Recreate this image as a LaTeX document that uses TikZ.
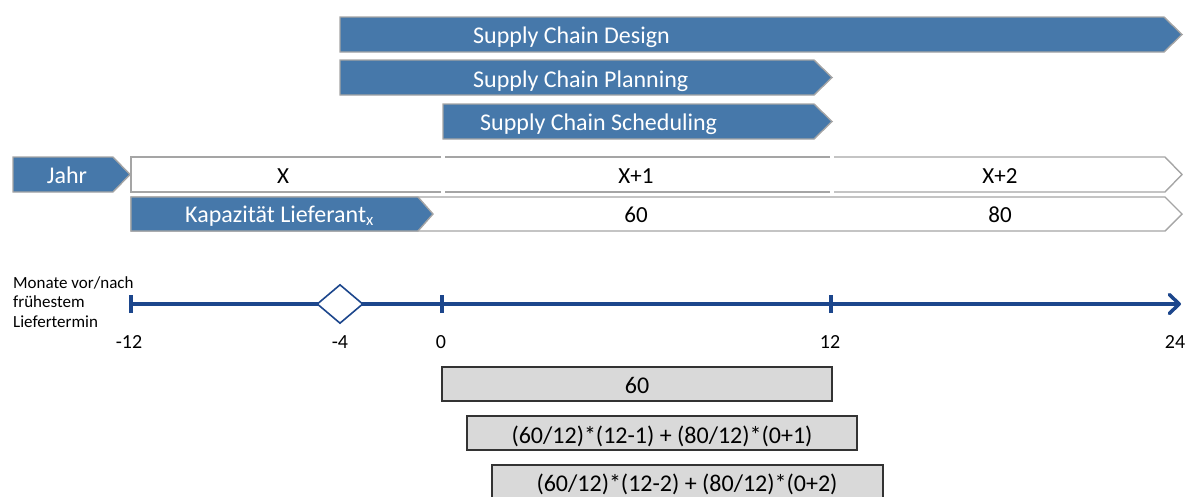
\documentclass[tikz,border=0pt]{standalone}
\usepackage{fontspec}
\setmainfont{Carlito}
\usetikzlibrary{arrows.meta,shapes.geometric}

\definecolor{barblue}{RGB}{70,120,170}
\definecolor{edgegrey}{RGB}{165,165,165}
\definecolor{axisblue}{RGB}{28,70,140}
\definecolor{boxgrey}{RGB}{217,217,217}

\tikzset{
  bluebar/.style={fill=barblue, draw=edgegrey, line width=1.4pt, line join=miter},
  rowline/.style={draw=edgegrey, line width=1.4pt},
  bartext/.style={text=white, font=\fontsize{24}{28}\selectfont, inner sep=0pt},
  celltext/.style={text=black, font=\fontsize{23}{27}\selectfont, inner sep=0pt, anchor=base},
  axisline/.style={draw=axisblue, line width=3.5pt},
  ticklabel/.style={text=black, font=\fontsize{20}{24}\selectfont, inner sep=0pt, anchor=base},
  calcbox/.style={fill=boxgrey, draw=black!80, line width=1.4pt},
  calctext/.style={text=black, font=\fontsize{24}{28}\selectfont, inner sep=0pt, anchor=base},
}

\begin{document}
\begin{tikzpicture}[x=1pt, y=-1pt]
\useasboundingbox (0,0) rectangle (1192,496);

% planning horizons
\path[bluebar] (340,17) -- (1164,17) -- (1182,34.5) -- (1164,52) -- (340,52) -- cycle;
\node[bartext, anchor=base west] (design) at (473,43) {Supply Chain Design};
\path[bluebar] (340,60) -- (814,60) -- (832,77.5) -- (814,95) -- (340,95) -- cycle;
\node[bartext, anchor=base west] (planning) at (473,87) {Supply Chain Planning};
\path[bluebar] (443,104) -- (814,104) -- (832,121.5) -- (814,139) -- (443,139) -- cycle;
\node[bartext, anchor=base west] (scheduling) at (480,130) {Supply Chain Scheduling};

% year row
\path[bluebar] (13,157) -- (113,157) -- (130,174.5) -- (113,192) -- (13,192) -- cycle;
\node[bartext, anchor=base] (jahr) at (67,183) {Jahr};
\draw[rowline] (441,157) -- (131,157) -- (131,192) -- (441,192);
\draw[rowline] (445,157) -- (830,157) (445,192) -- (830,192);
\draw[rowline] (834,157) -- (1165,157) -- (1182,174.5) -- (1165,192) -- (834,192);
\node[celltext] (yx) at (283,183) {X};
\node[celltext] (yx1) at (636,183) {X+1};
\node[celltext] (yx2) at (1000,183) {X+2};

% supplier capacity row
\draw[rowline] (131,197) -- (1165,197) -- (1182,214) -- (1165,231) -- (131,231) -- cycle;
\path[bluebar] (131,197) -- (418,197) -- (433,214) -- (418,231) -- (131,231) -- cycle;
\node[bartext, anchor=base west] (kap) at (185,222) {Kapazität Lieferant\textsubscript{x}};
\node[celltext] (c60) at (636,222) {60};
\node[celltext] (c80) at (1000,222) {80};

% timeline
\node[text=black, font=\fontsize{17}{19.5}\selectfont, inner sep=0pt, align=left, anchor=base west]
  (axlabel) at (13,327) {Monate vor/nach\\frühestem\\Liefertermin};
\coordinate (t-12) at (131,304);
\coordinate (t-4) at (340,304);
\coordinate (t0) at (442,304);
\coordinate (t12) at (831,304);
\coordinate (t24) at (1181,304);
\draw[axisline, -{Straight Barb[length=10pt,width=19pt,line cap=round,line join=round]}] (t-12) -- (t24);
\foreach \t in {t-12,t0,t12}
  \draw[axisblue, line width=3.5pt] ([yshift=-9]\t) -- ([yshift=9]\t);
\node[diamond, draw=axisblue, fill=white, line width=1.6pt, minimum width=46pt,
      minimum height=39pt, inner sep=0pt] (gate) at (t-4) {};
\node[ticklabel] (l-12) at (129,348) {-12};
\node[ticklabel] (l-4) at (340,348) {-4};
\node[ticklabel] (l0) at (441,348) {0};
\node[ticklabel] (l12) at (830,348) {12};
\node[ticklabel] (l24) at (1175,348) {24};

% demand calculations
\draw[calcbox] (442,367) rectangle (832,401);
\node[calctext] (b1) at (637,393) {60};
\draw[calcbox] (467,416) rectangle (857,450);
\node[calctext] (b2) at (662,443) {(60/12)*(12-1) + (80/12)*(0+1)};
\draw[calcbox] (492,465) rectangle (883,500);
\node[calctext] (b3) at (687,491) {(60/12)*(12-2) + (80/12)*(0+2)};
\end{tikzpicture}
\end{document}
